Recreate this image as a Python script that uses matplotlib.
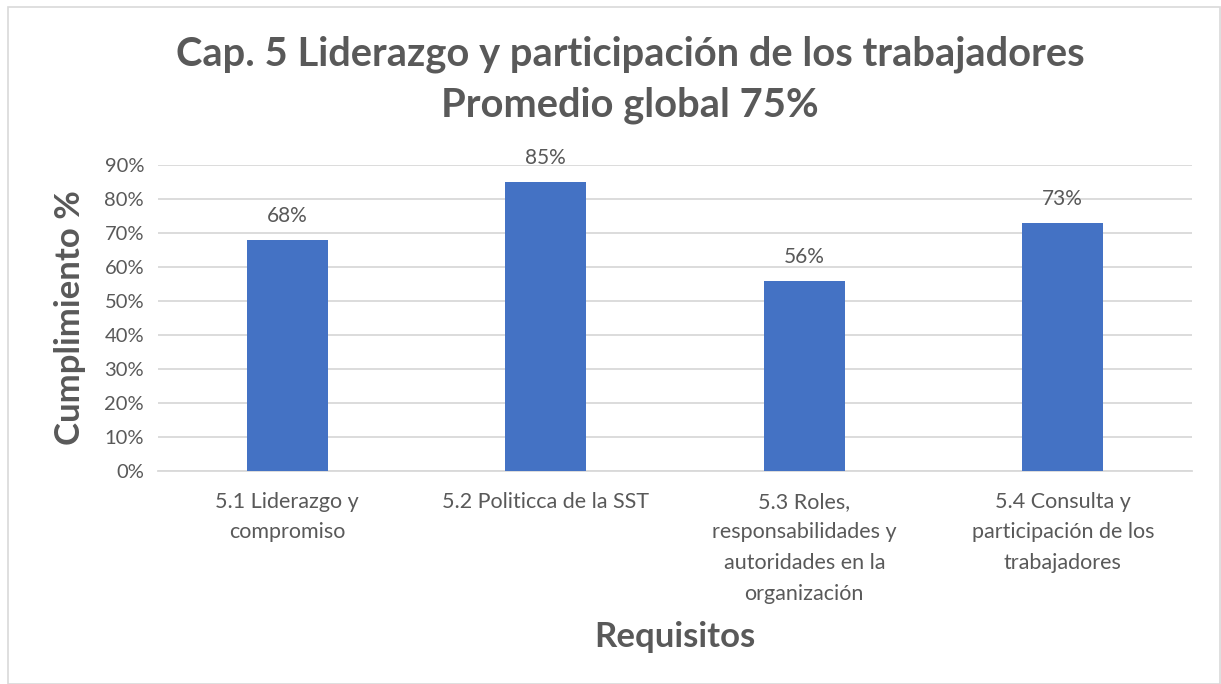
import numpy as np
import matplotlib.pyplot as plt
from matplotlib.patches import Rectangle
from matplotlib.ticker import PercentFormatter

plt.rcParams['font.family'] = ['Lato', 'DejaVu Sans']

# data
categories = ['5.1 Liderazgo y\ncompromiso',
              '5.2 Politicca de la SST',
              '5.3 Roles,\nresponsabilidades y\nautoridades en la\norganización',
              '5.4 Consulta y\nparticipación de los\ntrabajadores']
values = [0.68, 0.85, 0.56, 0.73]
title = 'Cap. 5 Liderazgo y participación de los trabajadores\nPromedio global 75%'

textcol = '#595959'
barcol = '#4472C4'
gridcol = '#D9D9D9'

fig = plt.figure(figsize=(12.21, 6.84), dpi=100)
ax = fig.add_axes([158/1221, 213/684, (1192-158)/1221, (471-165)/684])

x = np.arange(len(categories))
bars = ax.bar(x, values, width=0.315, color=barcol, zorder=3)
for xi, v in zip(x, values):
    ax.text(xi, v + 0.07, '{:.0f}%'.format(v*100), ha='center', va='center',
            fontsize=15, color=textcol)

ax.set_xlim(-0.5, len(categories)-0.5)
ax.set_ylim(0, 0.9)
ax.set_yticks(np.arange(0, 0.91, 0.1))
ax.yaxis.set_major_formatter(PercentFormatter(1.0, decimals=0))
ax.set_xticks(x)
ax.set_xticklabels(categories, fontsize=15.5, color=textcol, linespacing=1.66, va='top')
ax.tick_params(axis='y', labelsize=14.5, labelcolor=textcol, length=0, pad=10)
ax.tick_params(axis='x', length=0, pad=15)
ax.grid(axis='y', color=gridcol, linewidth=1.3, zorder=0)
for s in ['top', 'right', 'left']:
    ax.spines[s].set_visible(False)
ax.spines['bottom'].set_color(gridcol)
ax.spines['bottom'].set_linewidth(1.3)

ax.set_ylabel('Cumplimiento %', fontsize=25, fontweight='bold', color=textcol, labelpad=13)
ax.set_xlabel('Requisitos', fontsize=25, fontweight='bold', color=textcol)
ax.xaxis.set_label_coords(0.5, -0.49)

fig.text(630/1221, 1 - 80/684, title, ha='center', va='center', fontsize=28.7,
         fontweight='bold', color=textcol, linespacing=1.45)

# outer chart border
fig.patches.append(Rectangle((8/1221, 0), (1220-8)/1221, 1 - 7/684,
                             transform=fig.transFigure, fill=False,
                             edgecolor='#D9D9D9', linewidth=1.2))

fig.savefig('out.png', dpi=100)
